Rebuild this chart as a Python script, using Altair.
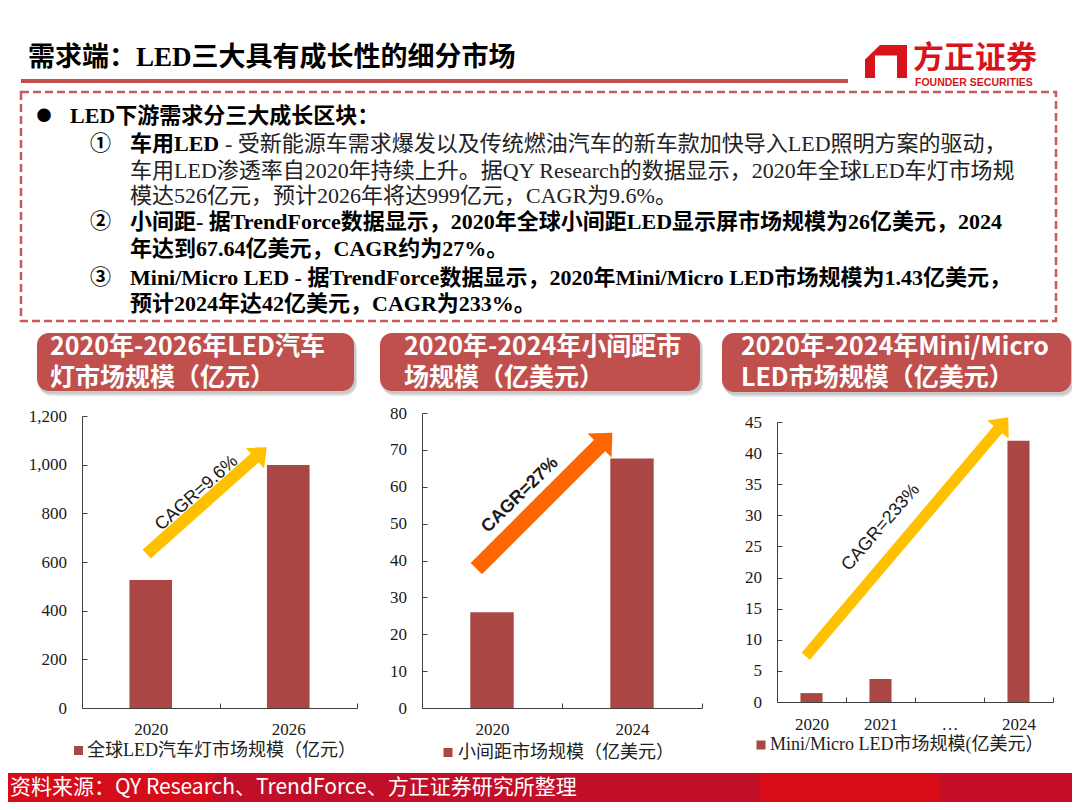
import altair as alt
import numpy as np
import pandas as pd

# ---------------- data ----------------
car_years = ["2020", "2026"]
car_values = [526, 999]
car_ticks = [0, 200, 400, 600, 800, 1000, 1200]

pitch_years = ["2020", "2024"]
pitch_values = [26, 67.64]
pitch_ticks = [0, 10, 20, 30, 40, 50, 60, 70, 80]

mini_years = ["2020", "2021", "…", "2024"]
mini_values = [1.43, 3.7, None, 42]
mini_ticks = [0, 5, 10, 15, 20, 25, 30, 35, 40, 45]

panel_titles = [
    ["2020年-2026年LED汽车", "灯市场规模（亿元）"],
    ["2020年-2024年小间距市", "场规模（亿美元）"],
    ["2020年-2024年Mini/Micro", "LED市场规模（亿美元）"],
]
legend_labels = ["全球LED汽车灯市场规模（亿元）", "小间距市场规模（亿美元）", "Mini/Micro LED市场规模(亿美元）"]
cagr_labels = ["CAGR=9.6%", "CAGR=27%", "CAGR=233%"]

title = "需求端：LED三大具有成长性的细分市场"
intro = "LED下游需求分三大成长区块："
line1_bold = "车用LED"
line1_rest = "- 受新能源车需求爆发以及传统燃油汽车的新车款加快导入LED照明方案的驱动，"
line2 = "车用LED渗透率自2020年持续上升。据QY Research的数据显示，2020年全球LED车灯市场规"
line3 = "模达526亿元，预计2026年将达999亿元，CAGR为9.6%。"
line4 = "小间距- 据TrendForce数据显示，2020年全球小间距LED显示屏市场规模为26亿美元，2024"
line5 = "年达到67.64亿美元，CAGR约为27%。"
line6 = "Mini/Micro LED - 据TrendForce数据显示，2020年Mini/Micro LED市场规模为1.43亿美元，"
line7 = "预计2024年达42亿美元，CAGR为233%。"
source = "资料来源：QY Research、TrendForce、方正证券研究所整理"

# ---------------- style ----------------
W, H = 1064, 794
BAR = "#AA4643"
HEAD = "#C0504D"
DASH = "#C85A5C"
LOGO = "#D7141A"
SERIF = "Liberation Serif, Noto Sans CJK SC"
SANS = "Noto Sans CJK SC"
ARIAL = "Liberation Sans"

ONE = pd.DataFrame({"k": [0]})


def text(s, x, y, size, color="#111111", weight="normal", font=SERIF, align="left", angle=0):
    return alt.Chart(ONE).mark_text(
        text=s, fontSize=size, color=color, fontWeight=weight, font=font,
        align=align, baseline="middle", angle=angle
    ).encode(x=alt.value(x), y=alt.value(y))


def rect(x, y, x2, y2, **kw):
    return alt.Chart(ONE).mark_rect(**kw).encode(
        x=alt.value(x), y=alt.value(y), x2=alt.value(x2), y2=alt.value(y2))


def arrow(tail, tip, sw, w, L, color):
    t = np.array(tail, float)
    p = np.array(tip, float)
    d = p - t
    u = d / np.linalg.norm(d)
    end = p - u * L * 0.95
    ang = float(np.degrees(np.arctan2(d[0], -d[1]))) % 360
    hw = (w / 2) / L
    shaft = alt.Chart(ONE).mark_rule(color=color, strokeWidth=sw, strokeCap="butt").encode(
        x=alt.value(float(t[0])), y=alt.value(float(t[1])),
        x2=alt.value(float(end[0])), y2=alt.value(float(end[1])))
    head = alt.Chart(ONE).mark_point(
        shape=f"M 0 0 L {hw:.3f} 1 L {-hw:.3f} 1 Z", size=4 * L * L, angle=ang,
        filled=True, fill=color, opacity=1, strokeWidth=0
    ).encode(x=alt.value(float(p[0])), y=alt.value(float(p[1])))
    return [shaft, head]


def panel(years, values, ticks, fmt, xr, yr, band, xpad):
    df = pd.DataFrame({"year": years, "value": values})
    return alt.Chart(df).mark_bar(color=BAR, width=alt.RelativeBandSize(band)).encode(
        x=alt.X("year:N", title=None,
                scale=alt.Scale(domain=years, range=xr, paddingInner=0, paddingOuter=0),
                axis=alt.Axis(orient="bottom", offset=yr[0] - H, tickBand="extent",
                              tickSize={"expr": "-5"}, labelPadding=xpad,
                              labelBaseline="middle", labelAngle=0, grid=False)),
        y=alt.Y("value:Q", title=None,
                scale=alt.Scale(domain=[0, ticks[-1]], range=yr, nice=False),
                axis=alt.Axis(orient="left", offset=-xr[0], values=ticks, format=fmt,
                              tickSize={"expr": "-5"}, labelPadding=20.5, grid=False)),
    )


layers = []

# title, underline, logo
layers.append(text(title, 20, 50, 27, color="#000000", weight="bold"))
layers.append(rect(13, 71, 840, 75, color=HEAD))
logo_path = ("M -1 -0.095 L -0.286 -0.786 L 1 -0.786 L 1 0.786 L 0.524 0.786 L 0.524 -0.286 "
             "L -0.524 -0.286 L -0.524 0.786 L -1 0.786 Z")
layers.append(alt.Chart(ONE).mark_point(shape=logo_path, size=1764, filled=True, fill=LOGO,
                                        opacity=1, strokeWidth=0)
              .encode(x=alt.value(878), y=alt.value(53.5)))
layers.append(text("方正证券", 905, 51, 31, color=LOGO, weight="bold", font=SANS))
layers.append(text("FOUNDER SECURITIES", 907, 75, 10.5, color=LOGO, weight="bold", font=ARIAL))

# dashed text box
layers.append(rect(13, 84, 1048, 313, filled=False, stroke=DASH, strokeWidth=2.5, strokeDash=[8, 4]))
layers.append(text("●", 36, 108, 15, color="#000000", align="center", font=SANS))
layers.append(text(intro, 62, 108, 22, color="#000000", weight="bold"))
for s, yy in [("①", 136), ("②", 214), ("③", 270)]:
    layers.append(text(s, 82, yy, 21, color="#000000", weight="bold", font=SANS))
layers.append(text(line1_bold, 122, 136, 22, color="#000000", weight="bold"))
layers.append(text(line1_rest, 217, 136, 22, color="#222222"))
layers.append(text(line2, 122, 163, 22, color="#222222"))
layers.append(text(line3, 122, 188, 22, color="#222222"))
layers.append(text(line4, 122, 214, 22, color="#000000", weight="bold"))
layers.append(text(line5, 122, 241, 22, color="#000000", weight="bold"))
layers.append(text(line6, 122, 270, 22, color="#000000", weight="bold"))
layers.append(text(line7, 122, 296, 22, color="#000000", weight="bold"))

# panel header boxes
boxes = [(29, 325, 346, 383, 42), (372, 325, 692, 383, 396), (714, 325, 1063, 384, 733)]
for (x1, y1, x2, y2, tx), lines in zip(boxes, panel_titles):
    layers.append(rect(x1 + 2, y1 + 3, x2 + 3, y2 + 5, color="#000000", opacity=0.10, cornerRadius=13))
    layers.append(rect(x1 + 1, y1 + 2, x2 + 2, y2 + 3, color="#000000", opacity=0.12, cornerRadius=12))
    layers.append(rect(x1, y1, x2, y2, color=HEAD, cornerRadius=12))
    layers.append(text(lines[0], tx, 339, 25, color="#FFFFFF", weight="bold", font=SANS))
    layers.append(text(lines[1], tx, 370, 25, color="#FFFFFF", weight="bold", font=SANS))

# bar panels
layers.append(panel(car_years, car_values, car_ticks, ",d", [74, 349], [700, 408], 0.31, 26.5))
layers.append(panel(pitch_years, pitch_values, pitch_ticks, "d", [414, 694], [700, 405], 0.31, 26.5))
layers.append(panel(mini_years, mini_values, mini_ticks, "d", [769, 1045], [694, 414], 0.32, 27.5))

# CAGR arrows
layers += arrow((138.7, 546), (258.7, 439.3), 12, 28, 16, "#FFC000")
layers += arrow((468.3, 560.7), (604.3, 424.7), 16, 34, 18, "#FF6600")
layers += arrow((797.8, 648.3), (1000.3, 409.3), 11, 28, 16, "#FFC000")
layers.append(text(cagr_labels[0], 188.7, 485.3, 18, color="#1a1a1a", font=ARIAL, align="center", angle=318.5))
layers.append(text(cagr_labels[1], 512, 487, 18, color="#1a1a1a", font=ARIAL, weight="bold", align="center", angle=315.5))
layers.append(text(cagr_labels[2], 872.8, 519.5, 18, color="#1a1a1a", font=ARIAL, align="center", angle=311))

# legends
for (sx, sy, tx), lab in zip([(70.5, 742.5, 79), (440, 744.5, 450), (753, 737, 762)], legend_labels):
    layers.append(alt.Chart(ONE).mark_square(size=81, color=BAR, opacity=1)
                  .encode(x=alt.value(sx), y=alt.value(sy)))
    layers.append(text(lab, tx, sy, 18, color="#222222"))

# footer
for x1, x2, c in [(0, 205, "#D70C1B"), (205, 752, "#C20F28"), (752, 932, "#D90B17"), (932, 1064, "#C30E25")]:
    layers.append(rect(x1, 765, x2, 794, color=c))
layers.append(text(source, 2, 780, 21, color="#FFFFFF", font=SANS))

chart = alt.layer(*layers).resolve_scale(x="independent", y="independent").properties(
    width=W, height=H, autosize=alt.AutoSizeParams(type="none"), padding=0, background="white"
).configure_view(stroke=None).configure_axis(
    labelFont="Liberation Serif", labelFontSize=17, labelColor="#1a1a1a",
    domainColor="#404040", tickColor="#404040", domainWidth=1, tickWidth=1, grid=False
)

chart.save("out.html", embed_options={"renderer": "svg", "actions": False})
